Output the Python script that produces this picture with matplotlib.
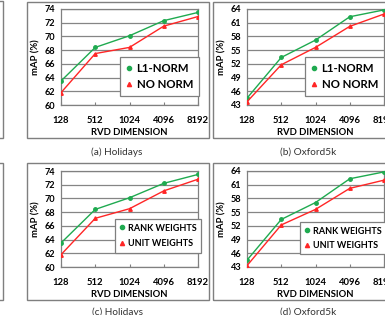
import matplotlib
matplotlib.use("Agg")
import matplotlib.pyplot as plt
from matplotlib.patches import Rectangle

plt.rcParams['font.family'] = ['Lato', 'DejaVu Sans']

dims = ["128", "512", "1024", "4096", "8192"]

hol_l1 = [63.5, 68.4, 70.1, 72.3, 73.5]
hol_nonorm = [61.8, 67.5, 68.4, 71.5, 72.9]
oxf_l1 = [44.5, 53.4, 57.2, 62.3, 63.8]
oxf_nonorm = [43.7, 51.8, 55.6, 60.2, 62.9]

hol_rank = [63.5, 68.4, 70.1, 72.2, 73.5]
hol_unit = [61.8, 67.1, 68.5, 71.1, 72.8]
oxf_rank = [44.5, 53.4, 57.1, 62.3, 63.8]
oxf_unit = [43.3, 52.2, 55.6, 60.2, 62.0]

hol_ticks = [60, 62, 64, 66, 68, 70, 72, 74]
oxf_ticks = [43, 46, 49, 52, 55, 58, 61, 64]

W, H = 385, 315
GREEN = "#1faa50"
RED = "#ff2626"
GRID = "#858585"

fig = plt.figure(figsize=(W / 100, H / 100), dpi=100)


def box(x0, y0, x1, y1):
    # pixel box (top-left origin) -> figure fraction rect
    return [x0 / W, 1 - y1 / H, (x1 - x0) / W, (y1 - y0) / H]


def frame(x0, y0, x1, y1):
    r = Rectangle((x0 / W, 1 - y1 / H), (x1 - x0) / W, (y1 - y0) / H,
                  transform=fig.transFigure, fill=False, edgecolor="#7f7f7f",
                  linewidth=1.0)
    fig.patches.append(r)


def panel(rect, s1, s2, lab1, lab2, ticks, leg_xy, leg_size, leg_sp, caption, cap_xy):
    ax = fig.add_axes(box(*rect))
    x = list(range(len(dims)))
    ax.plot(x, s1, color=GREEN, marker="o", markersize=2.5, linewidth=1.0, label=lab1, zorder=4)
    ax.plot(x, s2, color=RED, marker="^", markersize=2.5, linewidth=1.0, label=lab2, zorder=4)
    ax.set_xlim(0, 4)
    ax.set_ylim(ticks[0], ticks[-1])
    ax.set_yticks(ticks)
    ax.set_xticks(x)
    ax.set_xticklabels(dims)
    ax.tick_params(axis="y", length=0, labelsize=6.6, pad=4)
    ax.tick_params(axis="x", length=2, direction="in", color="#808080",
                   labelsize=6.8, pad=8)
    for t in ax.get_xticklabels() + ax.get_yticklabels():
        t.set_fontweight("bold")
    ax.yaxis.grid(True, color=GRID, linewidth=0.9)
    ax.set_axisbelow(True)
    for sp in ax.spines.values():
        sp.set_color("#808080")
        sp.set_linewidth(0.9)
    ax.set_ylabel("mAP (%)", fontsize=6.8, fontweight="bold", labelpad=3)
    ax.set_xlabel("RVD DIMENSION", fontsize=6.8, fontweight="bold", labelpad=2)
    leg = ax.legend(loc="upper left", bbox_to_anchor=(leg_xy[0] / W, 1 - leg_xy[1] / H),
                    bbox_transform=fig.transFigure, fancybox=False, framealpha=1,
                    edgecolor="#7f7f7f", prop={"size": leg_size, "weight": "bold"},
                    handlelength=0.5, handletextpad=0.45, borderpad=0.5,
                    labelspacing=leg_sp, borderaxespad=0)
    leg.get_frame().set_linewidth(0.9)
    for h in leg.get_lines():
        h.set_linewidth(0)
        h.set_markersize(3)
    fig.text(cap_xy[0] / W, 1 - cap_xy[1] / H, caption, fontsize=7.2,
             ha="center", va="center", color="#333333")
    return ax


# outer frames
frame(-20, 1, 2.5, 138)
frame(-20, 163, 2.5, 300)
frame(27, 1.5, 209, 138)
frame(213, 1.5, 405, 138)
frame(27, 163, 209, 300)
frame(213, 163, 405, 300)

panel((61, 9, 198, 105), hol_l1, hol_nonorm, "L1-NORM", "NO NORM",
      hol_ticks, (120, 57), 8.2, 0.5, "(a) Holidays", (117, 152))
panel((247, 9, 384, 105), oxf_l1, oxf_nonorm, "L1-NORM", "NO NORM",
      oxf_ticks, (305, 57), 8.2, 0.5, "(b) Oxford5k", (308, 152))
panel((61, 171, 198, 267), hol_rank, hol_unit, "RANK WEIGHTS", "UNIT WEIGHTS",
      hol_ticks, (115, 219), 6.5, 0.75, "(c) Holidays", (117, 312))
panel((247, 171, 384, 267), oxf_rank, oxf_unit, "RANK WEIGHTS", "UNIT WEIGHTS",
      oxf_ticks, (300, 222), 6.5, 0.6, "(d) Oxford5k", (308, 312))

fig.savefig("out.png", dpi=100)
